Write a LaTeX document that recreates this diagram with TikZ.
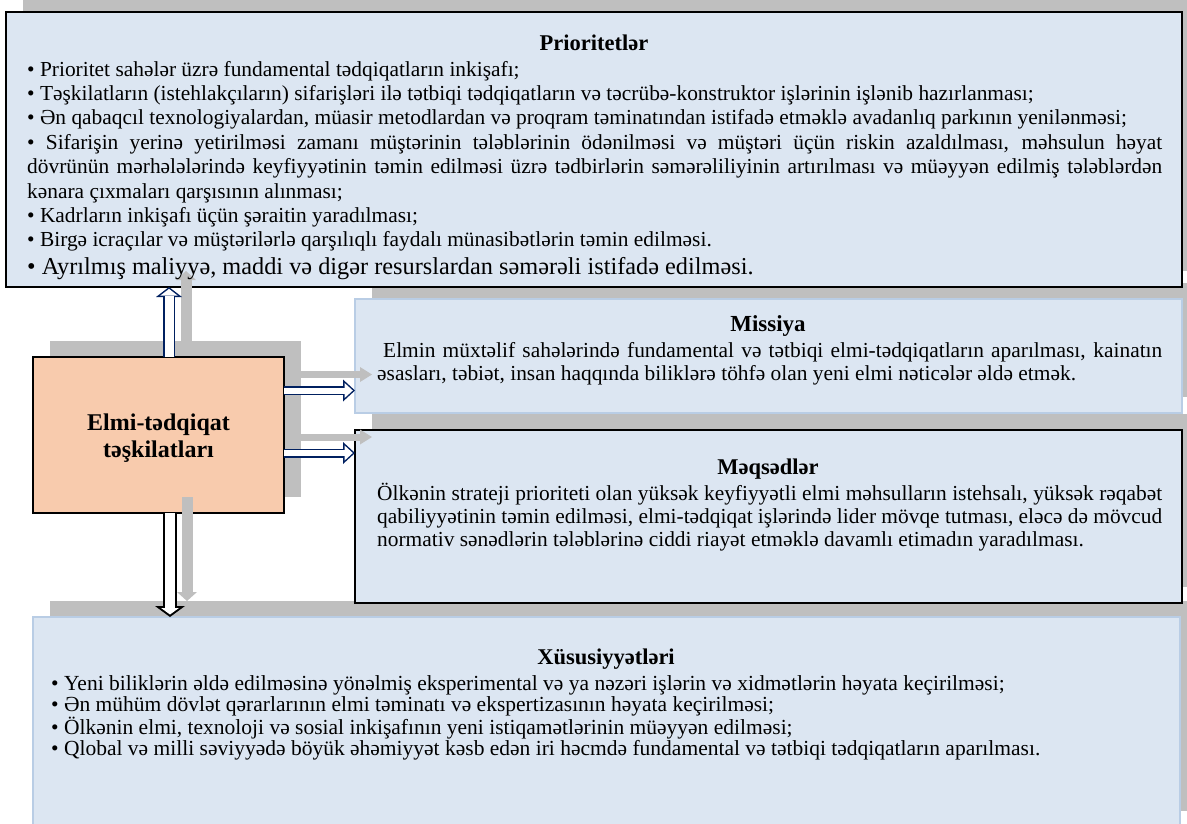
\documentclass[tikz,border=0pt]{standalone}
\usepackage{fontspec}
\setmainfont{Liberation Serif}
\usetikzlibrary{arrows.meta}
\definecolor{boxblue}{HTML}{DCE6F2}
\definecolor{edgeblue}{HTML}{B9CDE5}
\definecolor{shadowgray}{HTML}{BFBFBF}
\definecolor{peach}{HTML}{F8CBAD}
\definecolor{navyline}{HTML}{002060}
\hyphenpenalty=10000
\exhyphenpenalty=10000
\tikzset{
  shadowbox/.style={fill=shadowgray, anchor=north west, inner sep=0pt, outer sep=0pt},
  blackbox/.style={draw=black, line width=2pt, fill=boxblue, anchor=north west, inner sep=0pt, outer sep=0pt},
  softbox/.style={draw=edgeblue, line width=2pt, fill=boxblue, anchor=north west, inner sep=0pt, outer sep=0pt},
  orgbox/.style={draw=black, line width=2pt, fill=peach, anchor=north west, inner sep=0pt, outer sep=0pt},
  txt/.style={inner sep=0pt, anchor=base west},
  ttl/.style={inner sep=0pt, anchor=base, font=\fontsize{22.5}{26}\selectfont\bfseries},
  orgtxt/.style={inner sep=0pt, anchor=base, font=\fontsize{24}{27}\selectfont\bfseries},
  hout/.style={draw=navyline, line width=9pt, -{Triangle[length=12pt,width=22pt,line width=0pt]}},
  hin/.style={draw=white, line width=6pt, shorten >=2.2pt, -{Triangle[length=8.3pt,width=15.2pt,line width=0pt]}},
  uout/.style={draw=navyline, line width=12pt, -{Triangle[length=10pt,width=26pt,line width=0pt]}},
  uin/.style={draw=white, line width=9pt, shorten >=1.9pt, -{Triangle[length=6.6pt,width=17.2pt,line width=0pt]}},
  dout/.style={draw=black, line width=14pt, -{Triangle[length=11pt,width=30pt,line width=0pt]}},
  din/.style={draw=white, line width=10pt, shorten >=2.5pt, -{Triangle[length=6.5pt,width=17.8pt,line width=0pt]}},
  gh/.style={draw=shadowgray, line width=7pt, -{Triangle[length=12pt,width=15pt,line width=0pt]}},
  gv/.style={draw=shadowgray, line width=11pt, -{Triangle[length=9pt,width=20pt,line width=0pt]}},
}
\begin{document}
\begin{tikzpicture}[x=1pt,y=-1pt]
\useasboundingbox (0,0) rectangle (1187,823);
\clip (0,0) rectangle (1187,823);
% shadows
\node[shadowbox, minimum width=1176pt, minimum height=275pt] (prish) at (23,-4) {};
\node[shadowbox, minimum width=251pt, minimum height=156pt] (orgsh) at (50,341) {};
\node[shadowbox, minimum width=827pt, minimum height=114pt] (missh) at (372,283) {};
\node[shadowbox, minimum width=827pt, minimum height=173pt] (meqsh) at (372,414) {};
\node[shadowbox, minimum width=1147pt, minimum height=210pt] (xussh) at (50,601) {};
% boxes
\node[blackbox, minimum width=1176pt, minimum height=275pt] (pri) at (6,12) {};
\node[orgbox, minimum width=251pt, minimum height=156pt] (org) at (33,357) {};
\node[softbox, minimum width=827pt, minimum height=114pt] (mis) at (355,299) {};
\node[blackbox, minimum width=827pt, minimum height=173pt] (meq) at (355,430) {};
\node[softbox, minimum width=1147pt, minimum height=210pt] (xus) at (33,617) {};
% helper coordinates
\coordinate (ua) at (169,0);
\coordinate (da) at (170,0);
\coordinate (ra) at (0,390.5);
\coordinate (rb) at (0,453);
\coordinate (uas) at (186,0);
\coordinate (das) at (187,0);
\coordinate (ras) at (0,374.5);
\coordinate (rbs) at (0,437);
% shadow arrows
\draw[gv] (orgsh.north -| uas) -- (prish.south -| uas);
\draw[gv] (orgsh.south -| das) -- (xussh.north -| das);
\draw[gh] (orgsh.east |- ras) -- (missh.west |- ras);
\draw[gh] (orgsh.east |- rbs) -- (meqsh.west |- rbs);
% block arrows
\draw[uout] (org.north -| ua) -- (pri.south -| ua);
\draw[uin] (org.north -| ua) -- (pri.south -| ua);
\draw[hout] (org.east |- ra) -- (mis.west |- ra);
\draw[hin] (org.east |- ra) -- (mis.west |- ra);
\draw[hout] (org.east |- rb) -- (meq.west |- rb);
\draw[hin] (org.east |- rb) -- (meq.west |- rb);
\draw[dout] (org.south -| da) -- (xus.north -| da);
\draw[din] (org.south -| da) -- (xus.north -| da);
% texts
\node[ttl] (prit) at (594,50) {Prioritetlər};
\node[txt] (prix) at (27,76) {\parbox[t]{1135pt}{\fontsize{21.4}{24.4}\selectfont\parindent=0pt\parskip=0pt
• Prioritet sahələr üzrə fundamental tədqiqatların inkişafı;\par
• Təşkilatların (istehlakçıların) sifarişləri ilə tətbiqi tədqiqatların və təcrübə-konstruktor işlərinin işlənib hazırlanması;\par
• Ən qabaqcıl texnologiyalardan, müasir metodlardan və proqram təminatından istifadə etməklə avadanlıq parkının yenilənməsi;\par
• Sifarişin yerinə yetirilməsi zamanı müştərinin tələblərinin ödənilməsi və müştəri üçün riskin azaldılması, məhsulun həyat\linebreak dövrünün mərhələlərində keyfiyyətinin təmin edilməsi üzrə tədbirlərin səmərəliliyinin artırılması və müəyyən edilmiş tələblərdən\linebreak kənara çıxmaları qarşısının alınması;\par
• Kadrların inkişafı üçün şəraitin yaradılması;\par
• Birgə icraçılar və müştərilərlə qarşılıqlı faydalı münasibətlərin təmin edilməsi.\par
{\fontsize{24.3}{27.5}\selectfont • Ayrılmış maliyyə, maddi və digər resurslardan səmərəli istifadə edilməsi.\par}}};
\node[orgtxt] (orga) at (158.5,430) {Elmi-tədqiqat};
\node[orgtxt] (orgb) at (158.5,457) {təşkilatları};
\node[ttl, font=\fontsize{23}{26}\selectfont\bfseries] (mist) at (768,331) {Missiya};
\node[txt] (misx) at (377,357) {\parbox[t]{785pt}{\fontsize{21.4}{23.5}\selectfont\parindent=0pt
\hspace*{6pt}Elmin müxtəlif sahələrində fundamental və tətbiqi elmi-tədqiqatların aparılması, kainatın\linebreak əsasları, təbiət, insan haqqında biliklərə töhfə olan yeni elmi nəticələr əldə etmək.}};
\node[ttl] (meqt) at (768,474) {Məqsədlər};
\node[txt] (meqx) at (377,500) {\parbox[t]{785pt}{\fontsize{21.4}{23}\selectfont\parindent=0pt
Ölkənin strateji prioriteti olan yüksək keyfiyyətli elmi məhsulların istehsalı, yüksək rəqabət\linebreak qabiliyyətinin təmin edilməsi, elmi-tədqiqat işlərində lider mövqe tutması, eləcə də mövcud\linebreak normativ sənədlərin tələblərinə ciddi riayət etməklə davamlı etimadın yaradılması.}};
\node[ttl] (xust) at (606,664) {Xüsusiyyətləri};
\node[txt] (xusx) at (51,690) {\parbox[t]{1120pt}{\fontsize{21.5}{21}\selectfont\parindent=0pt\parskip=0pt
• Yeni biliklərin əldə edilməsinə yönəlmiş eksperimental və ya nəzəri işlərin və xidmətlərin həyata keçirilməsi;\par
• Ən mühüm dövlət qərarlarının elmi təminatı və ekspertizasının həyata keçirilməsi;\par
• Ölkənin elmi, texnoloji və sosial inkişafının yeni istiqamətlərinin müəyyən edilməsi;\par
• Qlobal və milli səviyyədə böyük əhəmiyyət kəsb edən iri həcmdə fundamental və tətbiqi tədqiqatların aparılması.\par}};
\end{tikzpicture}
\end{document}
